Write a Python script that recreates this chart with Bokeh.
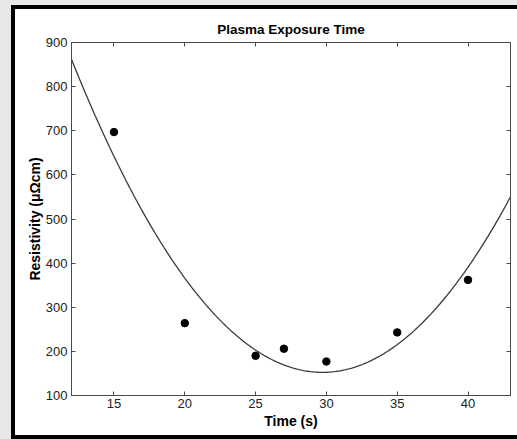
import numpy as np
from bokeh.plotting import figure
from bokeh.models import LinearAxis, FixedTicker, Range1d
from bokeh.embed import file_html
from bokeh.resources import INLINE

# ---- data ----
time_s = [15, 20, 25, 27, 30, 35, 40]
resistivity = [697, 264, 190, 206, 177, 243, 362]
x_ticks = [15, 20, 25, 30, 35, 40]
y_ticks = [100, 200, 300, 400, 500, 600, 700, 800, 900]
x_limits = [12, 43]
y_limits = [100, 900]
title_text = "Plasma Exposure Time"
x_label = "Time (s)"
y_label = "Resistivity (μΩcm)"

# quadratic least-squares fit of the measured points (as drawn in the reference)
coef = np.polyfit(time_s, resistivity, 2)
fit_x = np.linspace(x_limits[0], x_limits[1], 300)
fit_y = np.polyval(coef, fit_x)

FONT = "Liberation Sans"
AXC = "#4a4a4a"
TXT = "#222222"

p = figure(width=506, height=434, output_backend="svg", toolbar_location=None,
           x_range=Range1d(*x_limits), y_range=Range1d(*y_limits),
           title=title_text,
           min_border_left=56, min_border_right=11,
           min_border_top=33, min_border_bottom=48)
p.styles = {
    "margin-left": "11px",
    "margin-top": "5px",
    "border-style": "solid",
    "border-color": "black",
    "border-width": "4px 0px 4px 4px",
    "background-color": "white",
    "box-shadow": "0 0 0 30px #e8e8e8",
}
p.background_fill_color = "white"
p.border_fill_color = "white"
p.outline_line_color = AXC
p.outline_line_width = 1
p.grid.visible = False

p.title.align = "center"
p.title.text_font = FONT
p.title.text_font_size = "13.5px"
p.title.text_font_style = "bold"
p.title.text_color = "black"
p.title.standoff = 12

p.line(fit_x, fit_y, line_color="#3a3a3a", line_width=1.3)
p.scatter(time_s, resistivity, size=7.5, marker="circle", fill_color="black", line_color="black")

def style_axis(ax, ticks, show_labels):
    ax.ticker = FixedTicker(ticks=ticks)
    ax.axis_line_color = AXC
    ax.major_tick_line_color = AXC
    ax.major_tick_in = 4
    ax.major_tick_out = 0
    ax.minor_tick_line_color = None
    ax.major_label_text_font = FONT
    if show_labels:
        ax.major_label_text_font_size = "13px"
        ax.major_label_text_color = TXT
    else:
        ax.major_label_text_font_size = "1px"
        ax.major_label_text_color = None
        ax.major_label_standoff = 0

xa = p.xaxis[0]
ya = p.yaxis[0]
style_axis(xa, x_ticks, True)
style_axis(ya, y_ticks, True)
xa.major_label_standoff = 3
ya.major_label_standoff = 4
xa.axis_label = x_label
ya.axis_label = y_label
for ax in (xa, ya):
    ax.axis_label_text_font = FONT
    ax.axis_label_text_font_size = "14px"
    ax.axis_label_text_font_style = "bold"
    ax.axis_label_text_color = "black"
xa.axis_label_standoff = 2
ya.axis_label_standoff = 0

top_ax = LinearAxis()
style_axis(top_ax, x_ticks, False)
p.add_layout(top_ax, "above")
right_ax = LinearAxis()
style_axis(right_ax, y_ticks, False)
p.add_layout(right_ax, "right")

html = file_html(p, INLINE)
open("out.html", "w").write(html)
